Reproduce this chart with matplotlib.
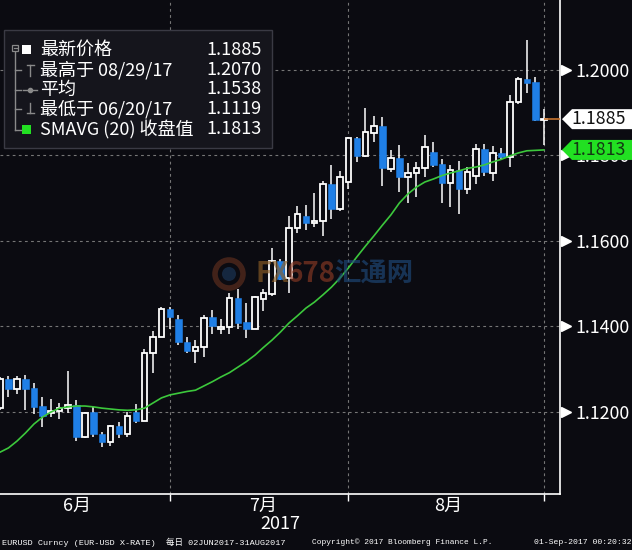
import numpy as np
import matplotlib
matplotlib.use("Agg")
import matplotlib.pyplot as plt
from matplotlib.patches import Rectangle, Polygon, Circle
from matplotlib.transforms import blended_transform_factory

plt.rcParams['font.family'] = ['Noto Sans CJK SC', 'DejaVu Sans']

# EURUSD daily candles, 02JUN2017 - 31AUG2017
opens = [1.1209, 1.1277, 1.1254, 1.1277, 1.1256, 1.1214, 1.1198, 1.1202, 1.1209, 1.1216,
         1.1142, 1.1200, 1.1149, 1.1131, 1.1167, 1.1149, 1.1199, 1.1180, 1.1338, 1.1376,
         1.1441, 1.1418, 1.1363, 1.1343, 1.1351, 1.1423, 1.1393, 1.1398, 1.1466, 1.1411,
         1.1395, 1.1464, 1.1476, 1.1554, 1.1513, 1.1630, 1.1658, 1.1641, 1.1647, 1.1733,
         1.1675, 1.1737, 1.1842, 1.1799, 1.1853, 1.1870, 1.1768, 1.1793, 1.1750, 1.1758,
         1.1770, 1.1807, 1.1780, 1.1735, 1.1766, 1.1721, 1.1752, 1.1815, 1.1760, 1.1806,
         1.1797, 1.1924, 1.1978, 1.1973, 1.1883]
highs = [1.1283, 1.1285, 1.1284, 1.1286, 1.1268, 1.1235, 1.1230, 1.1221, 1.1296, 1.1228,
         1.1200, 1.1212, 1.1153, 1.1170, 1.1177, 1.1201, 1.1219, 1.1347, 1.1390, 1.1446,
         1.1446, 1.1427, 1.1375, 1.1368, 1.1427, 1.1439, 1.1417, 1.1478, 1.1488, 1.1454,
         1.1471, 1.1487, 1.1583, 1.1557, 1.1658, 1.1682, 1.1684, 1.1712, 1.1740, 1.1778,
         1.1764, 1.1844, 1.1844, 1.1910, 1.1893, 1.1891, 1.1813, 1.1825, 1.1782, 1.1785,
         1.1848, 1.1832, 1.1791, 1.1778, 1.1788, 1.1772, 1.1827, 1.1827, 1.1822, 1.1817,
         1.1942, 1.1984, 1.2070, 1.1984, 1.1908]
lows = [1.1205, 1.1235, 1.1242, 1.1205, 1.1195, 1.1165, 1.1188, 1.1184, 1.1198, 1.1132,
        1.1139, 1.1142, 1.1119, 1.1120, 1.1139, 1.1142, 1.1174, 1.1179, 1.1292, 1.1375,
        1.1394, 1.1357, 1.1338, 1.1314, 1.1329, 1.1382, 1.1382, 1.1382, 1.1393, 1.1372,
        1.1393, 1.1436, 1.1471, 1.1509, 1.1479, 1.1619, 1.1626, 1.1632, 1.1612, 1.1651,
        1.1671, 1.1721, 1.1785, 1.1796, 1.1832, 1.1729, 1.1761, 1.1715, 1.1690, 1.1704,
        1.1750, 1.1772, 1.1688, 1.1680, 1.1663, 1.1710, 1.1733, 1.1752, 1.1740, 1.1789,
        1.1774, 1.1920, 1.1947, 1.1880, 1.1825]
closes = [1.1277, 1.1254, 1.1277, 1.1254, 1.1212, 1.1191, 1.1202, 1.1209, 1.1216, 1.1142,
          1.1198, 1.1149, 1.1130, 1.1167, 1.1149, 1.1191, 1.1180, 1.1338, 1.1376, 1.1441,
          1.1423, 1.1363, 1.1343, 1.1351, 1.1421, 1.1400, 1.1399, 1.1466, 1.1409, 1.1395,
          1.1468, 1.1478, 1.1553, 1.1511, 1.1630, 1.1662, 1.1641, 1.1646, 1.1733, 1.1675,
          1.1749, 1.1840, 1.1799, 1.1854, 1.1869, 1.1771, 1.1793, 1.1750, 1.1758, 1.1770,
          1.1819, 1.1778, 1.1735, 1.1766, 1.1721, 1.1762, 1.1815, 1.1761, 1.1805, 1.1797,
          1.1924, 1.1978, 1.1970, 1.1882, 1.1885]
sma20 = [1.1106, 1.1116, 1.1132, 1.1151, 1.1172, 1.1188, 1.1200, 1.1209, 1.1212, 1.1214,
         1.1214, 1.1212, 1.1209, 1.1207, 1.1205, 1.1204, 1.1205, 1.1209, 1.1221, 1.1233,
         1.1240, 1.1244, 1.1248, 1.1251, 1.1261, 1.1271, 1.1282, 1.1292, 1.1305, 1.1318,
         1.1333, 1.1351, 1.1368, 1.1387, 1.1408, 1.1425, 1.1443, 1.1457, 1.1474, 1.1492,
         1.1513, 1.1537, 1.1563, 1.1588, 1.1612, 1.1637, 1.1661, 1.1689, 1.1710, 1.1726,
         1.1738, 1.1745, 1.1753, 1.1759, 1.1764, 1.1770, 1.1773, 1.1778, 1.1785, 1.1791,
         1.1799, 1.1806, 1.1811, 1.1812, 1.1813]

month_labels = ["6月", "7月", "8月"]
month_label_pos = [9.0, 31.0, 52.7]
month_end_idx = [20, 41, 64]
y_ticks = [1.12, 1.14, 1.16, 1.18, 1.20]

last_price = 1.1885
sma_last = 1.1813
legend_names = ["最新价格", "最高于 08/29/17", "平均", "最低于 06/20/17", "SMAVG (20) 收盘值"]
legend_values = ["1.1885", "1.2070", "1.1538", "1.1119", "1.1813"]

BG = "#0b0b11"
BLUE = "#1f7fe6"
GREEN = "#3cc83c"
GRID = "#767676"

W, H = 632, 550
fig = plt.figure(figsize=(W / 100, H / 100), dpi=100, facecolor=BG)
ax = fig.add_axes([0, 56 / H, 560 / W, 494 / H], facecolor=BG)

days = np.arange(len(opens))
o = np.array(opens)
c = np.array(closes)
up = c >= o
body_lo = np.minimum(o, c)
body_h = np.maximum(np.abs(c - o), 0.00004)

ax.vlines(days, lows, highs, color="white", lw=1.1, zorder=3)
ax.bar(days[up], body_h[up], bottom=body_lo[up], width=0.66, facecolor=BG,
       edgecolor="white", lw=1.3, zorder=4)
ax.bar(days[~up], body_h[~up], bottom=body_lo[~up], width=0.76, facecolor=BLUE,
       edgecolor=BLUE, lw=0.4, zorder=4)
ax.plot(days, sma20, color=GREEN, lw=1.2, zorder=5)

xmax = 65.9
ax.hlines(last_price, days[-1], xmax, color="#c8742e", lw=1.2, zorder=6)

ax.set_xlim(0, xmax)
ax.set_ylim(1.10082, 1.21637)

ax.set_xticks(month_end_idx)
ax.set_yticks(y_ticks)
ax.set_yticklabels([f"{v:.4f}" for v in y_ticks])
ax.grid(True, color=GRID, ls=(0, (2.5, 3)), lw=0.8)
ax.set_axisbelow(True)
ax.yaxis.tick_right()
ax.tick_params(axis="y", length=0, pad=11, labelsize=12.8, labelcolor="white")
ax.tick_params(axis="x", direction="out", length=5, width=1, color="white",
               labelbottom=False)
for side in ["left", "top"]:
    ax.spines[side].set_visible(False)
for side in ["right", "bottom"]:
    ax.spines[side].set_color("white")
    ax.spines[side].set_linewidth(1.2)

# little triangle tick marks on the price axis
ax.plot([1.011] * len(y_ticks), y_ticks, marker=">", ls="none", ms=6.5,
        color="white", transform=ax.get_yaxis_transform(), clip_on=False, zorder=7)

# overlay in pixel coordinates for legend, labels, footer
ov = fig.add_axes([0, 0, 1, 1], zorder=10)
ov.set_xlim(0, W)
ov.set_ylim(H, 0)
ov.axis("off")
ov.patch.set_alpha(0)

# price flags on the right axis
tr = blended_transform_factory(ov.transData, ax.transData)
upp = (1.21637 - 1.10082) / 494
hh = 10 * upp
for price, face, tcol in [(last_price, "white", "#111111"), (sma_last, "#22e022", "#143814")]:
    pts = [(562, price), (572, price + hh), (632, price + hh), (632, price - hh), (572, price - hh)]
    ov.add_patch(Polygon(pts, closed=True, facecolor=face, edgecolor="none",
                         transform=tr, clip_on=False, zorder=3))
    ov.text(599, price, f"{price:.4f}", color=tcol, fontsize=12.8, ha="center",
            va="center", transform=tr, zorder=4)

# watermark
ov.add_patch(Circle((229, 274), 14, facecolor="none", edgecolor="#7a3a22", lw=4, alpha=0.5))
ov.add_patch(Circle((229, 274), 7, facecolor="#1d3a5e", edgecolor="none", alpha=0.6))
ov.text(256, 274, "FX", color="#8c5e26", fontsize=20, fontweight="bold", va="center", alpha=0.65)
ov.text(287, 274, "678", color="#8a3a24", fontsize=20, fontweight="bold", va="center", alpha=0.65)
ov.text(334, 274, "汇通网", color="#1f4a7a", fontsize=19, fontweight="bold", va="center", alpha=0.65)

# legend box
ov.add_patch(Rectangle((4, 30), 268, 118, facecolor="#15151c", edgecolor="#3a3a44", lw=1))
row_y = [50, 70, 89.5, 109, 129.5]
tree = "#8a8a8a"
ov.plot([15, 15], [52, 129.5], color=tree, lw=1)
ov.add_patch(Rectangle((12, 45), 6, 6, facecolor="#15151c", edgecolor=tree, lw=0.9))
ov.plot([13.5, 16.5], [48, 48], color=tree, lw=0.9)
for y in row_y[1:]:
    ov.plot([15, 21], [y, y], color=tree, lw=1)
ov.add_patch(Rectangle((22, 45), 9, 9, facecolor="white", edgecolor="none"))
ov.plot([30, 30], [65, 76], color=tree, lw=1)
ov.plot([26.5, 33.5], [65, 65], color=tree, lw=1)
ov.plot([23, 37], [89.5, 89.5], color=tree, lw=1)
ov.plot([30], [89.5], marker="o", ms=3, color=tree)
ov.plot([30, 30], [103, 113], color=tree, lw=1)
ov.plot([26.5, 33.5], [113, 113], color=tree, lw=1)
ov.add_patch(Rectangle((22, 125), 9, 9, facecolor="#22e022", edgecolor="none"))
for y, name, val in zip(row_y, legend_names, legend_values):
    ov.text(40, y, name, color="white", fontsize=13, va="center", ha="left")
    ov.text(262, y, val, color="white", fontsize=13, va="center", ha="right")

# month labels and year
for pos, lab in zip(month_label_pos, month_labels):
    ov.text(pos * 8.5, 506, lab, color="white", fontsize=13, ha="center", va="center")
ov.text(280, 524, "2017", color="white", fontsize=13, ha="center", va="center")

# footer
foot = dict(color="white", va="center", family=["Liberation Mono", "Noto Sans CJK SC"])
ov.text(2, 542, "EURUSD Curncy (EUR-USD X-RATE)  每日 02JUN2017-31AUG2017",
        ha="left", fontsize=6.1, **foot)
ov.text(312, 542, "Copyright© 2017 Bloomberg Finance L.P.", ha="left", fontsize=5.7, **foot)
ov.text(631, 542, "01-Sep-2017 00:20:32", ha="right", fontsize=5.9, **foot)

fig.savefig("out.png", dpi=100, facecolor=BG)
